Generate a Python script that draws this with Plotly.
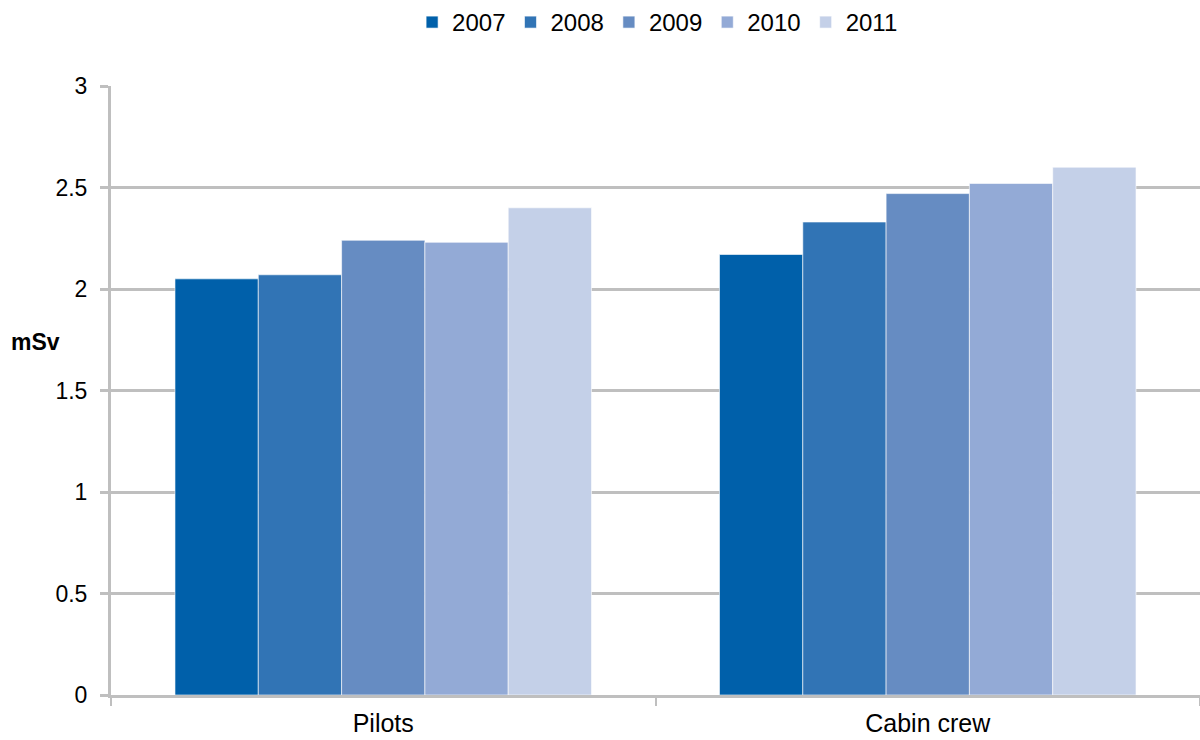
import plotly.graph_objects as go

categories = ["Pilots", "Cabin crew"]
years = ["2007", "2008", "2009", "2010", "2011"]
values_2007 = [2.05, 2.17]
values_2008 = [2.07, 2.33]
values_2009 = [2.24, 2.47]
values_2010 = [2.23, 2.52]
values_2011 = [2.40, 2.60]
series = [values_2007, values_2008, values_2009, values_2010, values_2011]
colors = ["#0060AA", "#3174B5", "#668CC2", "#93AAD6", "#C4D0E8"]
y_ticks = [0, 0.5, 1, 1.5, 2, 2.5, 3]
y_tick_labels = ["0", "0.5", "1", "1.5", "2", "2.5", "3"]

FONT = "Liberation Sans, Arial, sans-serif"

fig = go.Figure()
for name, vals, col in zip(years, series, colors):
    fig.add_trace(go.Bar(
        x=categories, y=vals, name=name,
        marker=dict(color=col, line=dict(color="rgba(255,255,255,0.6)", width=1)),
    ))

fig.update_layout(
    width=1200, height=740,
    margin=dict(l=111, r=0, t=86, b=45),
    paper_bgcolor="white", plot_bgcolor="white",
    barmode="group", bargap=0.235, bargroupgap=0,
    font=dict(family=FONT, size=23, color="#000000"),
    showlegend=True,
    legend=dict(
        orientation="h", xref="container", yref="container",
        x=0.548, xanchor="center", y=1.0, yanchor="top",
        font=dict(size=24), itemwidth=30, traceorder="normal",
        tracegroupgap=0,
    ),
    xaxis=dict(
        showline=True, linecolor="#BFBFBF", linewidth=3,
        ticks="outside", tickson="boundaries", ticklen=8, tickwidth=2, tickcolor="#BFBFBF",
        showgrid=False, tickfont=dict(size=25), ticklabelstandoff=4,
    ),
    yaxis=dict(
        range=[0, 3], tickvals=y_ticks, ticktext=y_tick_labels,
        showline=True, linecolor="#BFBFBF", linewidth=3,
        showgrid=True, gridcolor="#BFBFBF", gridwidth=3,
        ticks="outside", ticklen=8, tickwidth=3, tickcolor="#BFBFBF",
        tickfont=dict(size=23), zeroline=False, ticklabelstandoff=8,
    ),
    annotations=[dict(
        text="<b>mSv</b>", xref="paper", yref="paper", x=-0.0935, xanchor="left",
        y=(2 - 0.26) / 3, yanchor="middle", showarrow=False,
        font=dict(size=23, family=FONT),
    )],
)

fig.write_html("out.html")
